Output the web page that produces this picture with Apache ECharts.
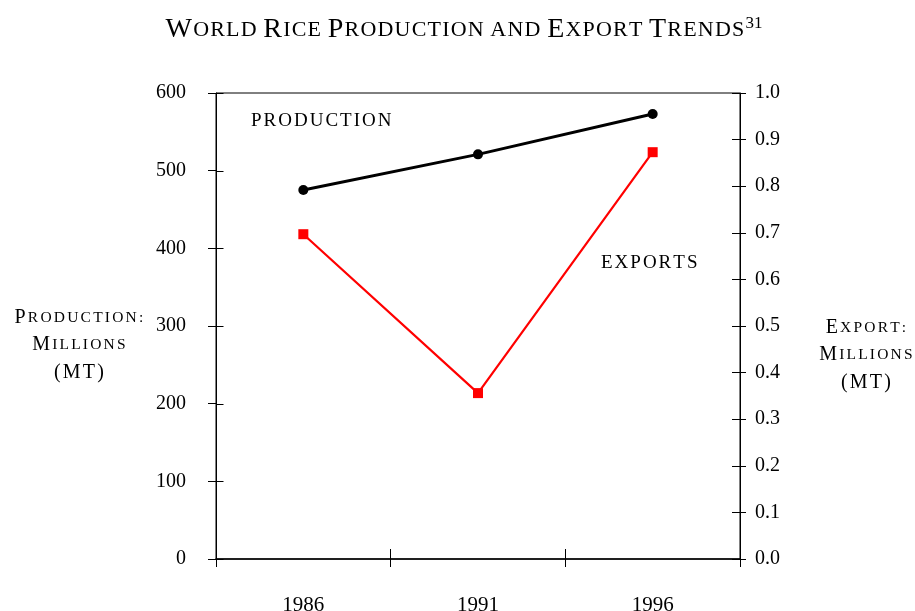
<!DOCTYPE html>
<html><head><meta charset="utf-8">
<script src="https://cdn.jsdelivr.net/npm/echarts@6/dist/echarts.min.js"></script>
<style>html,body{margin:0;padding:0;background:#fff}#c{width:915px;height:611px}</style>
</head><body><div id="c"></div>
<script>
const years = ['1986', '1991', '1996'];
const production = [475, 521, 573];
const exportsVals = [0.697, 0.356, 0.873];
const leftMin = 0, leftMax = 600, leftInterval = 100;
const rightMin = 0, rightMax = 1, rightInterval = 0.1;
const leftTickValues = [0, 100, 200, 300, 400, 500, 600];

const FONT = '"Liberation Serif", "Times New Roman", serif';

function smallCaps(text, big, small, space) {
  let out = '';
  const words = text.split(' ');
  words.forEach((w, wi) => {
    for (let i = 0; i < w.length; i++) {
      const ch = w[i];
      const isBig = /[A-Z]/.test(ch);
      out += '{' + (isBig ? big : small) + '|' + ch.toUpperCase() + '}';
    }
    if (wi < words.length - 1) out += '{' + space + '|\u00a0}';
  });
  return out;
}
function spaced(text, style) {
  return text.split('').map(c => '{' + style + '|' + (c === ' ' ? '\u00a0' : c) + '}').join('');
}

const chart = echarts.init(document.getElementById('c'));
const titleRich = {
  B: {fontFamily: FONT, fontSize: 28, color: '#000', padding: [0, 1.2, 0, 0]},
  s: {fontFamily: FONT, fontSize: 22, color: '#000', padding: [0, 1.2, 0, 0]},
  sp: {fontFamily: FONT, fontSize: 22, color: '#000'},
  sup: {fontFamily: FONT, fontSize: 17, color: '#000', padding: [0, 0, 13, 0]}
};
const nameRich = {
  B: {fontFamily: FONT, fontSize: 20, color: '#000', padding: [0, 2.2, 0, 0]},
  s: {fontFamily: FONT, fontSize: 15.5, color: '#000', padding: [0, 2.2, 0, 0]},
  sp: {fontFamily: FONT, fontSize: 15.5, color: '#000'}
};
const annRich = {
  a: {fontFamily: FONT, fontSize: 19, color: '#000', padding: [0, 2, 0, 0]}
};

const baseY = {
  type: 'value', splitLine: {show: false},
  axisLine: {show: true, lineStyle: {color: '#000', width: 1}}
};

chart.setOption({
  animation: false,
  backgroundColor: '#fff',
  grid: {left: 216, right: 175, top: 93, bottom: 52, show: true, borderColor: '#000', borderWidth: 1,
         outerBoundsMode: 'none', containLabel: false},
  xAxis: [
    {type: 'category', data: years, boundaryGap: true,
     axisLine: {lineStyle: {color: '#000', width: 1.5}},
     axisTick: {show: true, length: 8, lineStyle: {color: '#000'}},
     axisLabel: {fontFamily: FONT, fontSize: 21, color: '#000', margin: 36}},
    {type: 'category', data: years, boundaryGap: true, position: 'bottom',
     axisLine: {show: false},
     axisTick: {show: true, inside: true, length: 10, lineStyle: {color: '#000'}},
     axisLabel: {show: false}}
  ],
  yAxis: [
    Object.assign({}, baseY, {position: 'left', min: leftMin, max: leftMax, interval: leftInterval,
      axisTick: {show: true, length: 8, lineStyle: {color: '#000'}},
      axisLabel: {fontFamily: FONT, fontSize: 20, color: '#000', margin: 30}}),
    Object.assign({}, baseY, {position: 'right', min: rightMin, max: rightMax, interval: rightInterval,
      axisTick: {show: true, length: 6, lineStyle: {color: '#000'}},
      axisLabel: {fontFamily: FONT, fontSize: 20, color: '#000', margin: 15,
        formatter: v => v.toFixed(1)}}),
    Object.assign({}, baseY, {position: 'right', offset: 0, min: rightMin, max: rightMax, interval: rightInterval,
      axisLine: {show: false},
      axisTick: {show: true, inside: true, length: 8, lineStyle: {color: '#000'}},
      axisLabel: {show: false}})
  ],
  series: [
    {name: 'Production', type: 'line', xAxisIndex: 0, yAxisIndex: 0, data: production,
     symbol: 'circle', symbolSize: 10, itemStyle: {color: '#000'},
     lineStyle: {color: '#000', width: 3}, z: 5},
    {name: 'Exports', type: 'line', xAxisIndex: 0, yAxisIndex: 1, data: exportsVals,
     symbol: 'rect', symbolSize: 10, itemStyle: {color: '#ff0000'},
     lineStyle: {color: '#ff0000', width: 2.2}, z: 4},
    {name: 'leftInnerTicks', type: 'custom', xAxisIndex: 0, yAxisIndex: 0, silent: true, z: 3,
     data: leftTickValues.map(v => [0, v]),
     encode: {x: 0, y: 1},
     renderItem: function (params, api) {
       const cs = params.coordSys;
       const y = Math.round(api.coord([0, api.value(1)])[1]) + 0.5;
       const x = Math.round(cs.x) + 0.5;
       return {type: 'line', shape: {x1: x, y1: y, x2: x + 7, y2: y},
               style: {stroke: '#000', lineWidth: 1}};
     }}
  ],
  graphic: [
    {type: 'text', x: 464, y: 30, z: 10,
     style: {text: smallCaps('World Rice Production and Export Trends', 'B', 's', 'sp') + '{sup|31}',
       rich: titleRich, align: 'center', verticalAlign: 'middle'}},
    {type: 'text', x: 80, y: 318, z: 10,
     style: {text: smallCaps('Production:', 'B', 's', 'sp'), rich: nameRich, align: 'center', verticalAlign: 'middle'}},
    {type: 'text', x: 80, y: 345, z: 10,
     style: {text: smallCaps('Millions', 'B', 's', 'sp'), rich: nameRich, align: 'center', verticalAlign: 'middle'}},
    {type: 'text', x: 80, y: 373, z: 10,
     style: {text: spaced('(MT)', 'B'), rich: nameRich, align: 'center', verticalAlign: 'middle'}},
    {type: 'text', x: 867, y: 328, z: 10,
     style: {text: smallCaps('Export:', 'B', 's', 'sp'), rich: nameRich, align: 'center', verticalAlign: 'middle'}},
    {type: 'text', x: 867, y: 355, z: 10,
     style: {text: smallCaps('Millions', 'B', 's', 'sp'), rich: nameRich, align: 'center', verticalAlign: 'middle'}},
    {type: 'text', x: 867, y: 383, z: 10,
     style: {text: spaced('(MT)', 'B'), rich: nameRich, align: 'center', verticalAlign: 'middle'}},
    {type: 'text', x: 251, y: 121, z: 10,
     style: {text: spaced('PRODUCTION', 'a'), rich: annRich, align: 'left', verticalAlign: 'middle'}},
    {type: 'text', x: 601, y: 263, z: 10,
     style: {text: spaced('EXPORTS', 'a'), rich: annRich, align: 'left', verticalAlign: 'middle'}}
  ]
});
</script>
</body></html>
